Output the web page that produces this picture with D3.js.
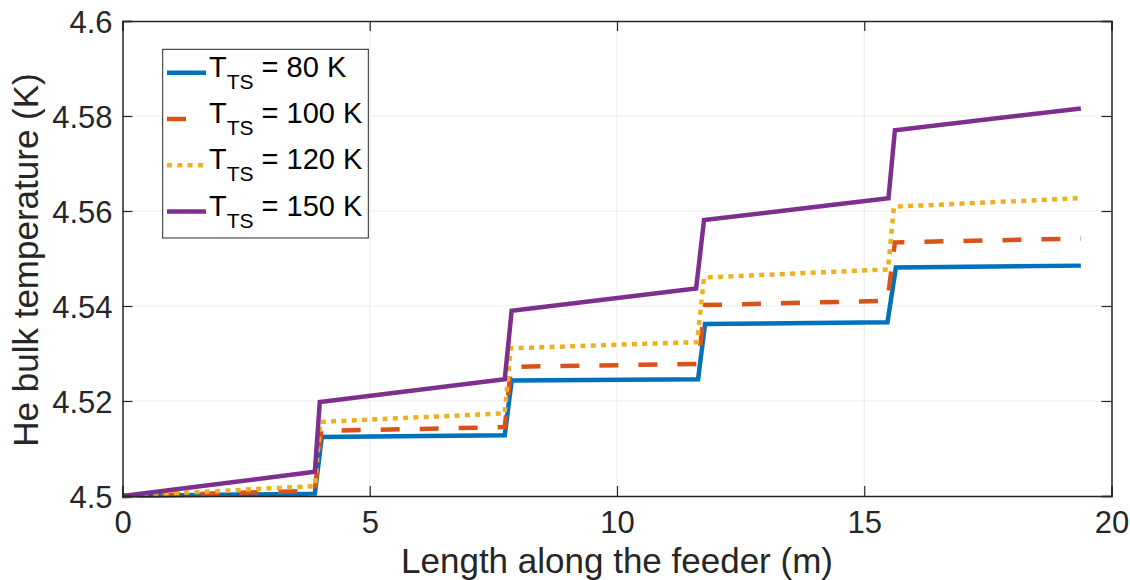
<!DOCTYPE html>
<html><head><meta charset="utf-8">
<script src="https://cdn.jsdelivr.net/npm/d3@7"></script>
<style>body{margin:0;background:#fff}text{font-family:"Liberation Sans",Arial,sans-serif}</style>
</head><body><svg id="c" width="1130" height="580"></svg>
<script>
const xTicks=[0,5,10,15,20];
const yTicks=[4.5,4.52,4.54,4.56,4.58,4.6];
const seriesNames=["80","100","120","150"];
const x80=[0,3.89,4.03,7.73,7.87,11.64,11.78,15.47,15.64,19.38];
const y80=[4.5,4.5005,4.5124,4.5128,4.5243,4.5246,4.5362,4.5366,4.5481,4.5485];
const x100=[0,3.89,4.02,7.73,7.86,11.64,11.78,15.47,15.62,19.38];
const y100=[4.5,4.5011,4.5137,4.5145,4.5272,4.5278,4.5402,4.5411,4.5534,4.5542];
const x120=[0,3.89,4.0,7.73,7.85,11.62,11.76,15.48,15.6,19.38];
const y120=[4.5,4.5021,4.5156,4.5174,4.5311,4.5324,4.5460,4.5477,4.5609,4.5627];
const x150=[0,3.89,3.99,7.73,7.87,11.6,11.76,15.49,15.62,19.38];
const y150=[4.5,4.5051,4.5198,4.5246,4.5390,4.5437,4.5581,4.5627,4.5770,4.5816];

const svg=d3.select("#c");
const L=122.5,R=1111.5,T=21,B=496;
const x=d3.scaleLinear().domain([0,20]).range([L,R]);
const y=d3.scaleLinear().domain([4.5,4.6]).range([B,T]);
const styles=[
 {c:"#0072BD",d:null},
 {c:"#D95319",d:"19,20"},
 {c:"#EDB120",d:"5,5.3"},
 {c:"#7E2F8E",d:null}];
const data=[[x80,y80],[x100,y100],[x120,y120],[x150,y150]];

// grid
svg.append("g").selectAll("line").data(xTicks.slice(1,-1)).join("line")
 .attr("x1",d=>x(d)).attr("x2",d=>x(d)).attr("y1",T).attr("y2",B).attr("stroke","#ebebeb").attr("stroke-width",1);
svg.append("g").selectAll("line").data(yTicks.slice(1,-1)).join("line")
 .attr("y1",d=>y(d)).attr("y2",d=>y(d)).attr("x1",L).attr("x2",R).attr("stroke","#ebebeb").attr("stroke-width",1);

// lines
const line=d3.line().x(d=>x(d[0])).y(d=>y(d[1]));
data.forEach((s,i)=>{
  const pts=s[0].map((v,j)=>[v,s[1][j]]);
  svg.append("path").attr("d",line(pts)).attr("fill","none").attr("stroke",styles[i].c)
   .attr("stroke-width",4.5).attr("stroke-dasharray",styles[i].d).attr("stroke-linejoin","miter");
});

// axes
const ax=svg.append("g").attr("transform",`translate(0,${B})`).call(d3.axisBottom(x).tickValues(xTicks).tickSize(-10).tickPadding(15).tickFormat(d3.format("d")));
const ax2=svg.append("g").attr("transform",`translate(0,${T})`).call(d3.axisTop(x).tickValues(xTicks).tickSize(-10).tickFormat(""));
const ay=svg.append("g").attr("transform",`translate(${L},0)`).call(d3.axisLeft(y).tickValues(yTicks).tickSize(-10).tickPadding(10).tickFormat(d=>String(+d.toFixed(2))));
const ay2=svg.append("g").attr("transform",`translate(${R},0)`).call(d3.axisRight(y).tickValues(yTicks).tickSize(-10).tickFormat(""));
[ax,ax2,ay,ay2].forEach(g=>{
  g.select(".domain").attr("stroke","#262626").attr("stroke-width",1.5);
  g.selectAll(".tick line").attr("stroke","#262626").attr("stroke-width",1.2);
  g.selectAll(".tick text").attr("fill","#262626").attr("font-size",31).attr("font-family","Liberation Sans, Arial, sans-serif");
});
ax.selectAll(".tick text").attr("dy","0.71em");
ay.selectAll(".tick text").attr("dy","0.36em");

svg.append("text").attr("x",(L+R)/2).attr("y",573).attr("text-anchor","middle").attr("font-size",35).attr("fill","#262626").text("Length along the feeder (m)");
svg.append("text").attr("transform",`translate(38,260) rotate(-90)`).attr("text-anchor","middle").attr("font-size",35).attr("fill","#262626").text("He bulk temperature (K)");

// legend
const lg=svg.append("g");
lg.append("rect").attr("x",162.7).attr("y",49.3).attr("width",205.6).attr("height",188.7).attr("fill","#fff").attr("stroke","#262626").attr("stroke-width",1);
seriesNames.forEach((n,i)=>{
  const yy=72.7+46.3*i;
  lg.append("line").attr("x1",167).attr("x2",206).attr("y1",yy).attr("y2",yy).attr("stroke",styles[i].c).attr("stroke-width",4.5).attr("stroke-dasharray",styles[i].d);
  const t=lg.append("text").attr("x",209).attr("y",yy+4).attr("font-size",29).attr("fill","#000");
  t.append("tspan").text("T");
  t.append("tspan").attr("font-size",21).attr("dy",12).text("TS");
  t.append("tspan").attr("dy",-12).text(" = "+n+" K");
});
</script></body></html>
